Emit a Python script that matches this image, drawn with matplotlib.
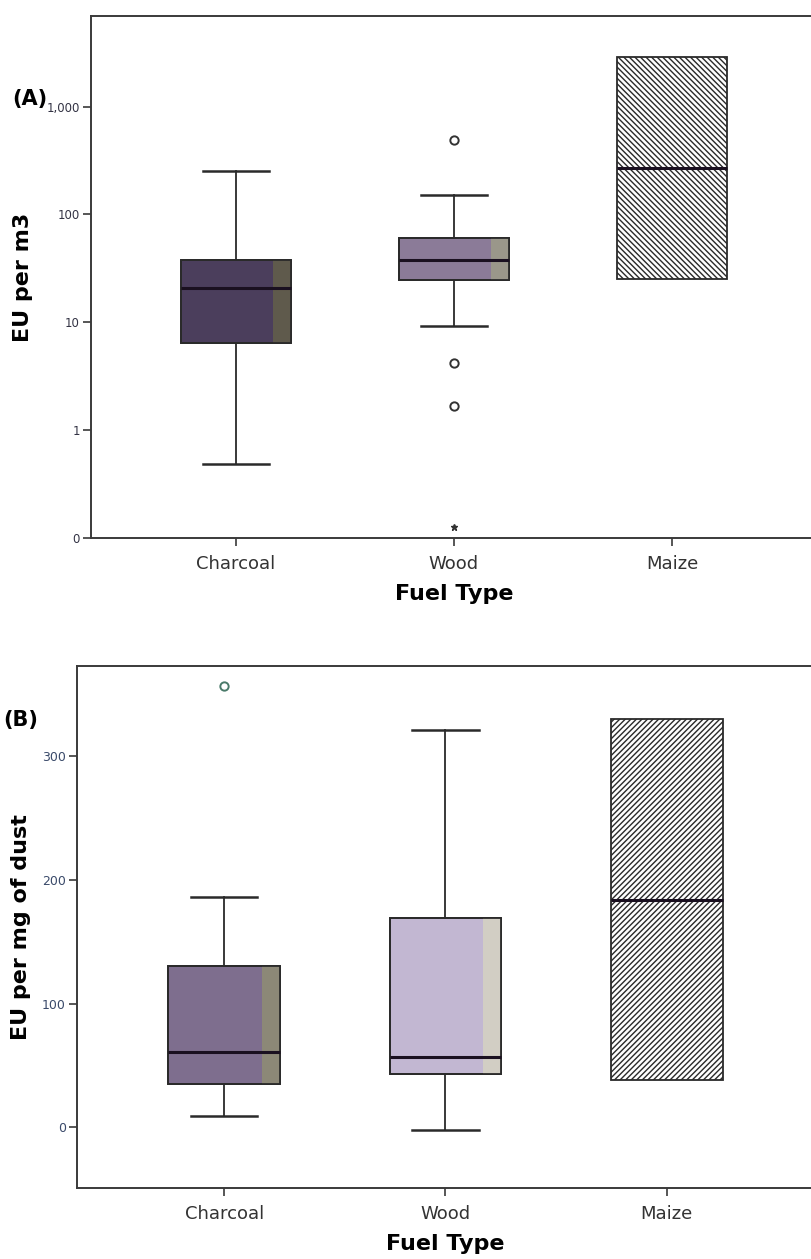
import matplotlib
matplotlib.use("Agg")
import matplotlib.pyplot as plt
from matplotlib.patches import Rectangle
from matplotlib.ticker import FixedLocator, FixedFormatter

fuels = ["Charcoal", "Wood", "Maize"]

# panel A: EU per m3 (log scale, "0" drawn at 0.1)
a_whislo = [0.49, 9.2, 25]
a_q1 = [6.4, 24.5, 25]
a_med = [20.6, 38, 272]
a_q3 = [37.5, 61, 2900]
a_whishi = [251, 153, 2900]
a_fliers = [[], [494, 4.2, 1.67], []]
a_extremes = [[], [0.126], []]

# panel B: EU per mg of dust
b_whislo = [8.9, -2.4, 38]
b_q1 = [34.8, 43, 38]
b_med = [60.6, 56.6, 183.5]
b_q3 = [130, 169, 330]
b_whishi = [186, 321, 330]
b_fliers = [[356.5], [], []]

a_colors = ["#4b3e5c", "#8b7b98", "white"]
a_strip = ["#5f5a4c", "#9a978a", None]
b_colors = ["#7e6e8e", "#c2b7d2", "white"]
b_strip = ["#8c8877", "#d2cec4", None]


def draw_panel(ax, whislo, q1, med, q3, whishi, fliers, colors, strips, hatch, flier_color):
    stats = []
    for i in range(len(fuels)):
        stats.append(dict(whislo=whislo[i], q1=q1[i], med=med[i], q3=q3[i],
                          whishi=whishi[i], fliers=fliers[i], label=fuels[i]))
    pos = [1, 2, 3]
    bp = ax.bxp(stats, positions=pos, widths=0.505, patch_artist=True,
                showfliers=True, capwidths=0.3,
                boxprops=dict(edgecolor="#2a2a2a", linewidth=1.3),
                medianprops=dict(color="#1a1020", linewidth=2.2),
                whiskerprops=dict(color="#2a2a2a", linewidth=1.3),
                capprops=dict(color="#2a2a2a", linewidth=1.8),
                flierprops=dict(marker="o", markerfacecolor="white",
                                markeredgecolor=flier_color, markersize=6,
                                markeredgewidth=1.4))
    for i, (box, c, s) in enumerate(zip(bp["boxes"], colors, strips)):
        box.set_facecolor(c)
        if s is None:
            box.set_hatch(hatch)
            # box without whiskers: hide the caps
            bp["caps"][2 * i].set_visible(False)
            bp["caps"][2 * i + 1].set_visible(False)
            continue
        verts = box.get_path().vertices
        x0, x1 = verts[:, 0].min(), verts[:, 0].max()
        y0, y1 = verts[:, 1].min(), verts[:, 1].max()
        w = (x1 - x0) * 0.16
        ax.add_patch(Rectangle((x1 - w, y0), w, y1 - y0, facecolor=s,
                               edgecolor="none", zorder=box.get_zorder() + 0.1))
        ax.add_patch(Rectangle((x0, y0), x1 - x0, y1 - y0, facecolor="none",
                               edgecolor="#2a2a2a", linewidth=1.3,
                               zorder=box.get_zorder() + 0.2))
    for m in bp["medians"]:
        m.set_zorder(5)
    return bp


plt.rcParams["hatch.linewidth"] = 1.0
plt.rcParams["hatch.color"] = "#3a3444"

fig = plt.figure(figsize=(8.12, 12.59), dpi=100)

# ---- panel A ----
axA = fig.add_axes([0.112, 0.5727, 0.894, 0.4146])
axA.set_yscale("log")
draw_panel(axA, a_whislo, a_q1, a_med, a_q3, a_whishi, a_fliers,
           a_colors, a_strip, "\\\\\\\\\\\\", "#333333")
for i, ext in enumerate(a_extremes):
    if ext:
        axA.plot([i + 1] * len(ext), ext, marker="*", linestyle="none",
                 color="#333333", markersize=5)
axA.set_ylim(0.1, 10 ** 3.84)
axA.set_xlim(0.335, 3.665)
axA.yaxis.set_major_locator(FixedLocator([0.1, 1, 10, 100, 1000]))
axA.yaxis.set_major_formatter(FixedFormatter(["0", "1", "10", "100", "1,000"]))
axA.yaxis.set_minor_locator(FixedLocator([]))
axA.set_ylabel("EU per m3", fontsize=16, fontweight="bold", labelpad=10)
axA.set_xlabel("Fuel Type", fontsize=16, fontweight="bold", labelpad=8)
axA.text(-0.108, 0.83, "(A)", transform=axA.transAxes, fontsize=15,
         fontweight="bold", ha="left")

# ---- panel B ----
axB = fig.add_axes([0.0948, 0.0564, 0.9076, 0.4146])
draw_panel(axB, b_whislo, b_q1, b_med, b_q3, b_whishi, b_fliers,
           b_colors, b_strip, "//////", "#4a7a6a")
axB.set_ylim(-49, 372.7)
axB.set_xlim(0.335, 3.665)
axB.set_yticks([0, 100, 200, 300])
axB.set_ylabel("EU per mg of dust", fontsize=16, fontweight="bold", labelpad=8)
axB.set_xlabel("Fuel Type", fontsize=16, fontweight="bold", labelpad=8)
axB.text(-0.1, 0.885, "(B)", transform=axB.transAxes, fontsize=15,
         fontweight="bold", ha="left")

for ax in (axA, axB):
    for sp in ax.spines.values():
        sp.set_color("#3a3a3a")
        sp.set_linewidth(1.4)
    ax.tick_params(axis="y", labelsize=8.5, length=6, width=1.2,
                   colors="#3a3a3a", labelcolor="#333344", pad=2)
    ax.tick_params(axis="x", labelsize=13, length=6, width=1.2,
                   colors="#3a3a3a", labelcolor="#333333", pad=6)
    ax.set_xticks([1, 2, 3])
    ax.set_xticklabels(fuels)
axB.tick_params(axis="y", labelsize=9, labelcolor="#3a4a6a")

fig.savefig("out.png", dpi=100)
